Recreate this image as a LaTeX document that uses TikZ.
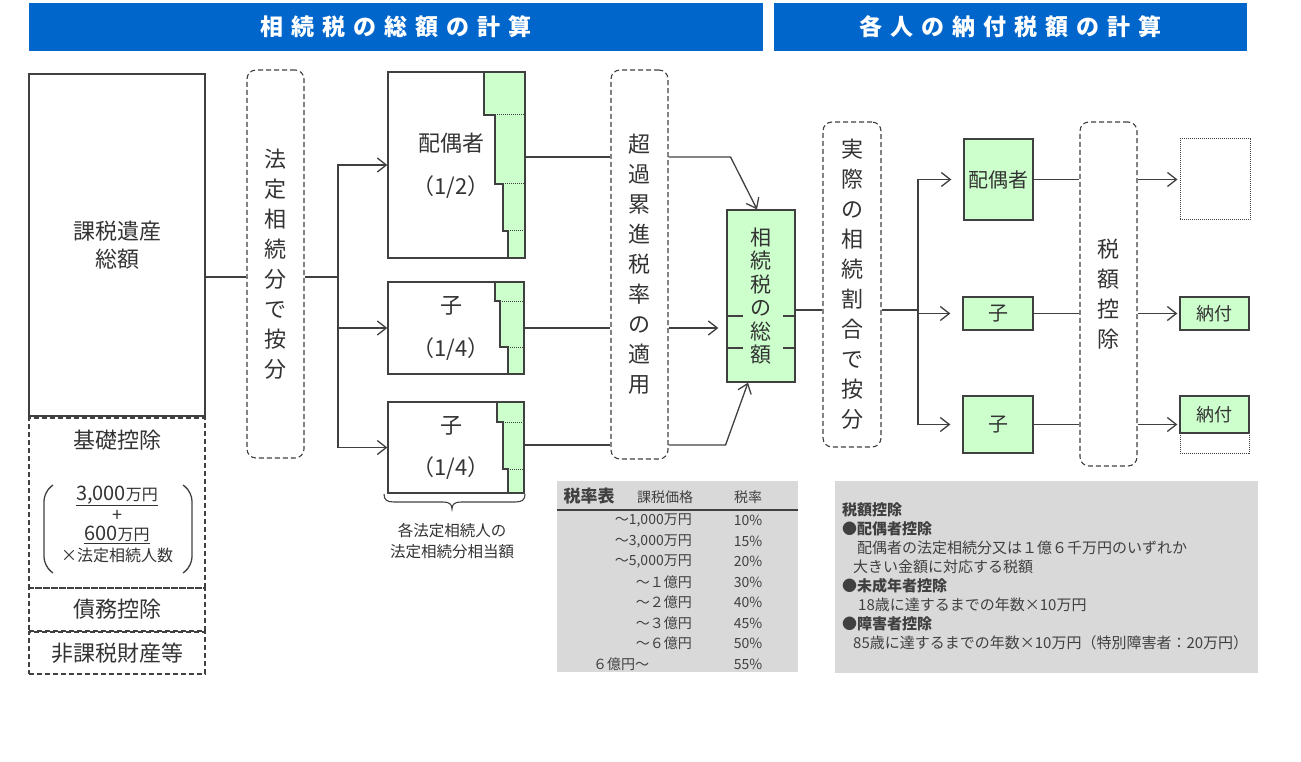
\documentclass[tikz,border=0pt]{standalone}
\usepackage{fontspec}
\setmainfont{Noto Sans CJK JP}
\usepackage{xcolor}
\usepackage{tikz}
\usetikzlibrary{arrows.meta}

\definecolor{headblue}{HTML}{0066CC}
\definecolor{sharegreen}{HTML}{CCFFCC}
\definecolor{panelgray}{HTML}{D9D9D9}
\definecolor{linegray}{HTML}{404040}
\definecolor{textgray}{HTML}{333333}

\begin{document}
\begin{tikzpicture}[x=1pt,y=-1pt]
	\tikzstyle{banner} = [fill=headblue, text=white, minimum height=48, inner sep=0, font=\bfseries\fontsize{23}{26}\selectfont\addfontfeatures{LetterSpace=35}]
	\tikzstyle{box}=[draw=linegray, line width=1.3, fill=white, inner sep=0, text=textgray]
	\tikzstyle{greenbox}=[box, fill=sharegreen, font=\fontsize{20}{24}\selectfont]
	\tikzstyle{dotbox}=[draw=linegray, line width=1, densely dotted, inner sep=0]
	\tikzstyle{deduct} = [draw=linegray, line width=1.1, dash pattern=on 5pt off 3pt, inner sep=0, text=textgray, font=\fontsize{22}{26}\selectfont]
	\tikzstyle{share} = [deduct, rounded corners=9, align=center, font=\fontsize{22}{30}\selectfont]
	\tikzstyle{txt} = [inner sep=0, text=textgray, font=\fontsize{22}{26}\selectfont]
	\tikzstyle{stair} = [draw=linegray, line width=1.3, fill=sharegreen]
	\tikzstyle{tier} = [draw=linegray, line width=1, densely dotted]
	\tikzstyle{panel} = [fill=panelgray, inner sep=0]
	\tikzstyle{tabtxt} = [inner sep=0, text=linegray, font=\fontsize{14}{16}\selectfont]
	\tikzset{link/.style = {draw=linegray, line width=1.3}, flow/.style = {link, -{Straight Barb[length=9pt,width=14pt]}}}
	
	\useasboundingbox (0,0) rectangle (1301,762);
	
	\node[banner, minimum width=734](totalhead) at (396,27) {相続税の総額の計算};
	\node[banner, minimum width=473](eachhead) at (1010.5,27) {各人の納付税額の計算};
	
	\node[box, minimum width=176, minimum height=342, align=center, font=\fontsize{22}{28}\selectfont](estate) at (117,245) {課税遺産\\総額};
	\node[deduct, minimum width=176, minimum height=170](basic) at (117,503) {};
	\node[deduct, minimum width=176, minimum height=43](debt) at (117,609.5) {債務控除};
	\node[deduct, minimum width=176, minimum height=42](exempt) at (117,653) {非課税財産等};
	\node[txt](basictitle) at (117,440) {基礎控除};
	\node[txt, font=\fontsize{20}{20}\selectfont](basicbase) at (117,496) {\underline{3,000{\fontsize{16}{16}\selectfont 万円}}};
	\node[txt, font=\fontsize{18}{18}\selectfont](basicplus) at (117,516) {+};
	\node[txt, font=\fontsize{20}{20}\selectfont](basicextra) at (117,535) {\underline{600{\fontsize{16}{16}\selectfont 万円}}};
	\node[txt, font=\fontsize{16}{16}\selectfont](basicheirs) at (117,555) {×法定相続人数};
	\draw[link, rounded corners=9] (53,485) -- (44,492) -- (44,566) -- (53,573);
	\draw[link, rounded corners=9] (183,485) -- (192,492) -- (192,566) -- (183,573);
	
	\node[share, minimum width=57, minimum height=388](legalsplit) at (275.5,264) {法\\定\\相\\続\\分\\で\\按\\分};
	\coordinate (fork1) at (338,277);
	\draw[link] (estate.east |- fork1) -- (legalsplit.west |- fork1);
	\draw[link] (legalsplit.east |- fork1) -- (fork1);
	
	\node[box, minimum width=137, minimum height=186](spouse) at (456.5,165) {};
	\node[box, minimum width=136, minimum height=92](child1) at (456,328) {};
	\node[box, minimum width=136, minimum height=91](child2) at (456,447.5) {};
	\draw[stair] (525,72) -- (484,72) -- (484,115) -- (495,115) -- (495,184) -- (503,184) -- (503,231) -- (508,231) -- (508,258) -- (525,258) -- cycle;
	\draw[tier] (495,115) -- (525,115) (503,184) -- (525,184) (508,231) -- (525,231);
	\draw[stair] (524,282) -- (495,282) -- (495,301) -- (500,301) -- (500,347) -- (508,347) -- (508,374) -- (524,374) -- cycle;
	\draw[tier] (500,301) -- (524,301) (508,347) -- (524,347);
	\draw[stair] (524,402) -- (497,402) -- (497,422) -- (503,422) -- (503,469) -- (508,469) -- (508,493) -- (524,493) -- cycle;
	\draw[tier] (503,422) -- (524,422) (508,469) -- (524,469);
	\node[txt](spousename) at (451,143) {配偶者};
	\node[txt](spouseshare) at (451,187) {（1/2）};
	\node[txt](child1name) at (451,306) {子};
	\node[txt](child1share) at (451,349) {（1/4）};
	\node[txt](child2name) at (451,426) {子};
	\node[txt](child2share) at (451,468) {（1/4）};
	\draw[flow] (fork1) |- (spouse.west);
	\draw[flow] (fork1) |- (child1.west);
	\draw[flow] (fork1) |- (child2.west);
	
	\draw[link, line width=1.1] (384,494) .. controls (384,500) and (387,502) .. (394,502) -- (443,502) .. controls (449,502) and (452,504) .. (452,509) .. controls (452,504) and (455,502) .. (461,502) -- (515,502) .. controls (522,502) and (525,500) .. (525,494);
	\node[align=center, inner sep=0, text=textgray, font=\fontsize{15.5}{21}\selectfont](bracenote) at (452,541) {各法定相続人の\\法定相続分相当額};
	
	\node[share, minimum width=57, minimum height=389](progressive) at (639.5,264.5) {超\\過\\累\\進\\税\\率\\の\\適\\用};
	\node[greenbox, minimum width=68, minimum height=172, align=center, font=\fontsize{21}{23.5}\selectfont](total) at (761,296) {相\\続\\税\\の\\総\\額};
	\draw[link] ([yshift=-20pt]total.west) -- ++(17,0) ([yshift=-52pt]total.west) -- ++(17,0);
	\draw[link] ([yshift=-20pt]total.east) -- ++(-13,0) ([yshift=-52pt]total.east) -- ++(-13,0);
	
	\path (spouse.east) ++(0,-8) coordinate (spouseout);
	\draw[link] (spouseout) -- (spouseout -| progressive.west);
	\draw[flow] (spouseout -| progressive.east) -- ++(62,0) -- ([xshift=-4pt]total.north);
	\draw[link] (child1.east) -- (child1.east -| progressive.west);
	\draw[flow, shorten >=8pt] (child1.east -| progressive.east) -- (child1.east -| total.west);
	\path (child2.east) ++(0,-2.5) coordinate (child2out);
	\draw[link] (child2out) -- (child2out -| progressive.west);
	\draw[flow] (child2out -| progressive.east) -- ++(57,0) -- ([xshift=-13pt]total.south);
	
	\node[share, minimum width=58, minimum height=325](actualsplit) at (852,284.5) {実\\際\\の\\相\\続\\割\\合\\で\\按\\分};
	\path (total.east) ++(0,14) coordinate (totalout);
	\draw[link] (totalout) -- (totalout -| actualsplit.west);
	\coordinate (fork2) at (918,310);
	\draw[link] (totalout -| actualsplit.east) -- (fork2);
	
	\node[greenbox, minimum width=69, minimum height=81](taxspouse) at (998.5,179.5) {配偶者};
	\node[greenbox, minimum width=70, minimum height=33](taxchild1) at (998,313.5) {子};
	\node[greenbox, minimum width=70, minimum height=57](taxchild2) at (998,424.5) {子};
	\draw[flow, shorten >=12pt] (fork2) |- (taxspouse.west);
	\draw[flow, shorten >=12pt] (fork2) |- (taxchild1.west);
	\draw[flow, shorten >=12pt] (fork2) |- (taxchild2.west);
	
	\node[share, minimum width=57, minimum height=344](credit) at (1108.5,294) {税\\額\\控\\除};
	\draw[link] (taxspouse.east) -- (taxspouse.east -| credit.west);
	\draw[link] (taxchild1.east) -- (taxchild1.east -| credit.west);
	\draw[link] (taxchild2.east) -- (taxchild2.east -| credit.west);
	
	\node[dotbox, minimum width=70, minimum height=81](payspouse) at (1215,179.5) {};
	\node[greenbox, minimum width=69, minimum height=33, font=\fontsize{18}{20}\selectfont](paychild1) at (1214.5,313.5) {納付};
	\node[greenbox, minimum width=69, minimum height=37, font=\fontsize{18}{20}\selectfont](paychild2) at (1214.5,414.5) {納付};
	\node[dotbox, minimum width=69, minimum height=20](paychild2rest) at (1214.5,443) {};
	\draw[flow, shorten >=2pt] (taxspouse.east -| credit.east) -- (payspouse.west |- taxspouse.east);
	\draw[flow, shorten >=2pt] (taxchild1.east -| credit.east) -- (paychild1.west |- taxchild1.east);
	\draw[flow, shorten >=2pt] (taxchild2.east -| credit.east) -- (paychild2.west |- taxchild2.east);
	
	\node[panel, minimum width=241, minimum height=191](ratetable) at (677.5,576.5) {};
	\draw[link, line width=1.6] ([yshift=-29pt]ratetable.north west) -- ([yshift=-29pt]ratetable.north east);
	\node[inner sep=0, text=linegray, font=\bfseries\fontsize{17}{20}\selectfont](ratetitle) at (589,496) {税率表};
	\node[tabtxt](pricehead) at (665,497) {課税価格};
	\node[tabtxt](ratehead) at (748,497) {税率};
	\node[tabtxt, anchor=east](price1) at (692,520) {～1,000万円};
	\node[tabtxt](rate1) at (748,520) {10\%};
	\node[tabtxt, anchor=east](price2) at (692,541) {～3,000万円};
	\node[tabtxt](rate2) at (748,541) {15\%};
	\node[tabtxt, anchor=east](price3) at (692,561) {～5,000万円};
	\node[tabtxt](rate3) at (748,561) {20\%};
	\node[tabtxt, anchor=east](price4) at (692,582) {～１億円};
	\node[tabtxt](rate4) at (748,582) {30\%};
	\node[tabtxt, anchor=east](price5) at (692,602) {～２億円};
	\node[tabtxt](rate5) at (748,602) {40\%};
	\node[tabtxt, anchor=east](price6) at (692,623) {～３億円};
	\node[tabtxt](rate6) at (748,623) {45\%};
	\node[tabtxt, anchor=east](price7) at (692,643) {～６億円};
	\node[tabtxt](rate7) at (748,643) {50\%};
	\node[tabtxt, anchor=west](price8) at (593,664) {６億円～};
	\node[tabtxt](rate8) at (748,664) {55\%};
	
	\node[panel, minimum width=423, minimum height=192](creditpanel) at (1046.5,577) {};
	\node[anchor=north west, align=left, inner sep=0, text=linegray, font=\fontsize{15}{19}\selectfont](credittext) at (842,502) {{\bfseries 税額控除}\\{\bfseries ●配偶者控除}\\\hspace*{15pt}配偶者の法定相続分又は１億６千万円のいずれか\\\hspace*{11pt}大きい金額に対応する税額\\{\bfseries ●未成年者控除}\\\hspace*{16pt}18歳に達するまでの年数×10万円\\{\bfseries ●障害者控除}\\\hspace*{11pt}85歳に達するまでの年数×10万円（特別障害者：20万円）};
	
\end{tikzpicture}
\end{document}
